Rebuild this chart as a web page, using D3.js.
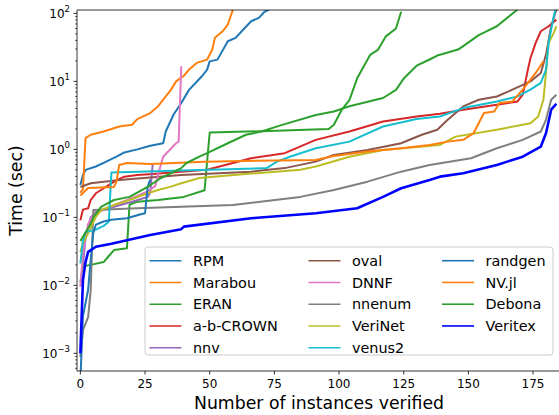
<!DOCTYPE html>
<html>
<head>
<meta charset="utf-8">
<script src="https://cdn.jsdelivr.net/npm/d3@7"></script>
<style>
  body { margin: 0; background: #fff; }
  svg { display: block; font-family: "DejaVu Sans", sans-serif; }
</style>
</head>
<body>
<svg width="559" height="415"></svg>
<script>
// series names, in legend order
const names = ["RPM", "Marabou", "ERAN", "a-b-CROWN", "nnv", "oval", "DNNF",
  "nnenum", "VeriNet", "venus2", "randgen", "NV.jl", "Debona", "Veritex"];
const colors = ["#1f77b4", "#ff7f0e", "#2ca02c", "#d62728", "#9467bd", "#8c564b", "#e377c2",
  "#7f7f7f", "#bcbd22", "#17becf", "#1f77b4", "#ff7f0e", "#2ca02c", "#0000ff"];

// [instances verified, time (sec)]
const rpm = [[0,0.3],[1,0.42],[2,0.5],[6,0.56],[10,0.66],[14,0.78],[17,0.9],[22,1.0],[27,1.13],
  [32,1.23],[33,1.83],[36,3.23],[39,4.8],[42,7.5],[47,11.9],[49,14.9],[50,19.7],[53,20.9],
  [57,38.9],[60,43.7],[63,57.9],[66,76.7],[69,86],[71,104],[73,115]];
const marabou = [[0,0.23],[1,0.26],[2,1.46],[4,1.64],[9,1.83],[15,2.17],[20,2.3],[22,2.79],
  [27,3.42],[30,4.28],[33,6.0],[35,7.5],[37,10],[40,12.1],[42,14.9],[45,18.7],[49,20.9],
  [51,29.4],[52,43.7],[55,54.6],[57,68.6],[59,114]];
const eran = [[0,0.011],[1,0.019],[4,0.02],[9,0.022],[11,0.027],[13,0.033],[18,0.035],
  [19,0.153],[22,0.17],[30,0.18],[40,0.2],[48,0.25],[50,1.77],[70,1.85],[96,1.99],[98,2.3],
  [101,3.8],[104,5.3],[107,11.1],[112,24.5],[115,29],[118,45.5],[122,60],[124,106]];
const abCrown = [[0,0.091],[1,0.13],[3,0.136],[4,0.18],[6,0.226],[9,0.268],[13,0.335],
  [17,0.397],[22,0.42],[28,0.435],[39,0.47],[49,0.5],[66,0.74],[79,0.88],[91,1.38],[104,1.83],
  [117,2.57],[130,3.05],[139,3.34],[148,3.83],[161,4.53],[169,5.07],[171,6.37],[173,14.9],
  [174,22.1],[176,36.8],[178,54.6],[181,64.7],[184,81]];
const nnv = [[1,0.02],[2,0.05],[4,0.1],[6,0.12],[12,0.14],[20,0.17],[26,0.2],[27,0.23],[28,0.63]];
const oval = [[0,0.28],[4,0.317],[15,0.355],[39,0.42],[66,0.47],[79,0.53],[91,0.66],[98,0.83],
  [111,0.98],[124,1.23],[132,1.64],[138,1.94],[142,2.72],[148,4.28],[154,5.37],[161,6.0],
  [167,7.55],[174,10],[178,13.3],[180,24.8],[182,64.7],[184,114]];
const dnnf = [[0,0.0095],[1,0.03],[3,0.08],[5,0.11],[10,0.136],[15,0.161],[21,0.2],[26,0.24],
  [29,0.29],[30,0.42],[32,0.78],[37,1.23],[38,1.3],[39,16.7]];
const nnenum = [[0,0.00088],[1,0.0022],[3,0.0034],[4,0.0085],[5,0.128],[22,0.136],[39,0.143],
  [59,0.152],[85,0.2],[98,0.253],[111,0.335],[124,0.47],[135,0.59],[151,0.74],[161,1.04],
  [171,1.38],[178,1.83],[180,2.72],[182,5.37],[184,6.37]];
const veriNet = [[0,0.031],[1,0.042],[3,0.058],[4,0.07],[6,0.102],[8,0.128],[13,0.152],
  [19,0.18],[26,0.226],[30,0.253],[35,0.283],[39,0.317],[46,0.38],[66,0.44],[85,0.5],
  [91,0.56],[104,0.78],[117,0.98],[139,1.16],[145,1.54],[161,1.94],[174,2.43],[177,3.05],
  [179,5.37],[180,13.3],[181,36.8],[183,51.7],[184,64.7]];
const venus2 = [[0,0.021],[1,0.045],[2,0.061],[6,0.066],[9,0.075],[11,0.086],[12,0.456],
  [39,0.49],[72,0.53],[76,0.66],[81,0.78],[91,1.04],[104,1.3],[117,2.17],[130,2.79],
  [139,3.05],[148,4.05],[161,5.07],[169,6.0],[174,7.55],[178,9.5],[180,14.9],[181,36.8],
  [183,91],[184,130]];
const randgen = [[0,0.0004],[1,0.0035],[3,0.0086],[4,0.024],[5,0.059],[6,0.078],[9,0.087],
  [12,0.092],[18,0.097],[23,0.11],[25,0.115],[26,0.28],[27,0.36]];
const nvJl = [[0,0.21],[3,0.27],[13,0.28],[14,0.34],[15,0.59],[18,0.63],[27,0.61],[48,0.66],
  [91,0.7],[98,0.8],[111,0.93],[124,1.04],[135,1.16],[142,1.3],[148,1.38],[152,1.73],
  [156,3.42],[160,3.6],[162,4.8],[167,5.07],[171,7.55],[176,13.3],[179,19.7]];
const debona = [[0,0.045],[2,0.06],[4,0.08],[5,0.1],[8,0.143],[13,0.18],[19,0.2],[26,0.28],
  [31,0.376],[39,0.53],[41,0.63],[46,0.78],[49,0.88],[57,1.23],[64,1.64],[70,1.83],[78,2.29],
  [91,3.2],[98,3.6],[104,4.3],[117,5.7],[122,7.5],[125,11],[130,17],[135,21],[138,24],
  [146,29.4],[148,33],[154,48],[156,52],[161,64.7],[169,114]];
const veritex = [[0,0.001],[1,0.012],[2,0.022],[3,0.031],[6,0.037],[12,0.041],[18,0.046],
  [27,0.055],[39,0.067],[40,0.073],[66,0.097],[91,0.115],[107,0.136],[117,0.2],[124,0.268],
  [135,0.355],[139,0.397],[148,0.446],[161,0.59],[171,0.78],[178,1.1],[180,1.73],[182,3.83],
  [184,4.69]];

const seriesData = [rpm, marabou, eran, abCrown, nnv, oval, dnnf, nnenum, veriNet, venus2,
  randgen, nvJl, debona, veritex];

const xTicks = [0, 25, 50, 75, 100, 125, 150, 175];
const yTickExps = [-3, -2, -1, 0, 1, 2];

// layout
const svg = d3.select("svg");
const plot = { left: 77, right: 561, top: 10, bottom: 371 };

const x = d3.scaleLinear()
    .domain([-1.3, 185.8])
    .range([plot.left, plot.right]);

const y = d3.scaleLog()
    .domain([Math.pow(10, -3.26), Math.pow(10, 2.05)])
    .range([plot.bottom, plot.top]);

svg.append("clipPath").attr("id", "clip")
  .append("rect")
    .attr("x", plot.left).attr("y", plot.top)
    .attr("width", plot.right - plot.left).attr("height", plot.bottom - plot.top);

// lines
const line = d3.line()
    .x(d => x(d[0]))
    .y(d => y(d[1]));

const lines = svg.append("g").attr("clip-path", "url(#clip)");
seriesData.forEach((s, i) => {
    lines.append("path")
        .datum(s)
        .attr("d", line)
        .attr("fill", "none")
        .attr("stroke", colors[i])
        .attr("stroke-width", names[i] === "Veritex" ? 2.6 : 2)
        .attr("stroke-linejoin", "round");
});

// spines
svg.append("path")
    .attr("d", `M${plot.left},${plot.top}H${plot.right}M${plot.left},${plot.top}V${plot.bottom}H${plot.right}`)
    .attr("fill", "none")
    .attr("stroke", "#000")
    .attr("stroke-width", 0.8);

// x axis
const xg = svg.append("g");
xTicks.forEach(t => {
    xg.append("line")
        .attr("x1", x(t)).attr("x2", x(t))
        .attr("y1", plot.bottom).attr("y2", plot.bottom + 3.5)
        .attr("stroke", "#000").attr("stroke-width", 0.8);
    xg.append("text")
        .attr("x", x(t)).attr("y", plot.bottom + 17)
        .attr("text-anchor", "middle")
        .attr("font-size", 12)
        .text(t);
});

// y axis, log ticks
const yg = svg.append("g");
const [yMin, yMax] = y.domain();
for (let e = -4; e <= 2; e++) {
    for (let m = 2; m <= 9; m++) {
        const v = m * Math.pow(10, e);
        if (v < yMin || v > yMax) continue;
        yg.append("line")
            .attr("x1", plot.left - 2).attr("x2", plot.left)
            .attr("y1", y(v)).attr("y2", y(v))
            .attr("stroke", "#000").attr("stroke-width", 0.6);
    }
}
yTickExps.forEach(e => {
    const yy = y(Math.pow(10, e));
    yg.append("line")
        .attr("x1", plot.left - 3.5).attr("x2", plot.left)
        .attr("y1", yy).attr("y2", yy)
        .attr("stroke", "#000").attr("stroke-width", 0.8);
    const label = yg.append("text")
        .attr("x", plot.left - 7).attr("y", yy + 5)
        .attr("text-anchor", "end")
        .attr("font-size", 12);
    label.append("tspan").text("10");
    label.append("tspan")
        .attr("dy", -6)
        .attr("font-size", 8.5)
        .text(String(e).replace("-", "\u2212"));
});

// axis titles
svg.append("text")
    .attr("x", (plot.left + 559) / 2 + 1).attr("y", 409)
    .attr("text-anchor", "middle")
    .attr("font-size", 17.3)
    .text("Number of instances verified");

svg.append("text")
    .attr("transform", `translate(22,${(plot.top + plot.bottom) / 2}) rotate(-90)`)
    .attr("text-anchor", "middle")
    .attr("font-size", 17.3)
    .text("Time (sec)");

// legend
const legend = svg.append("g");
legend.append("rect")
    .attr("x", 145).attr("y", 247)
    .attr("width", 408).attr("height", 108)
    .attr("rx", 3)
    .attr("fill", "#fff").attr("fill-opacity", 0.8)
    .attr("stroke", "#cccccc").attr("stroke-width", 1);

const colX = [149.5, 308.5, 442];
names.forEach((n, i) => {
    const col = Math.floor(i / 5), row = i % 5;
    const ly = 260.7 + row * 21.75;
    legend.append("line")
        .attr("x1", colX[col]).attr("x2", colX[col] + 32)
        .attr("y1", ly).attr("y2", ly)
        .attr("stroke", colors[i]).attr("stroke-width", 1.6);
    legend.append("text")
        .attr("x", colX[col] + 43.5).attr("y", ly + 5.2)
        .attr("font-size", 14.4)
        .text(n);
});
</script>
</body>
</html>
